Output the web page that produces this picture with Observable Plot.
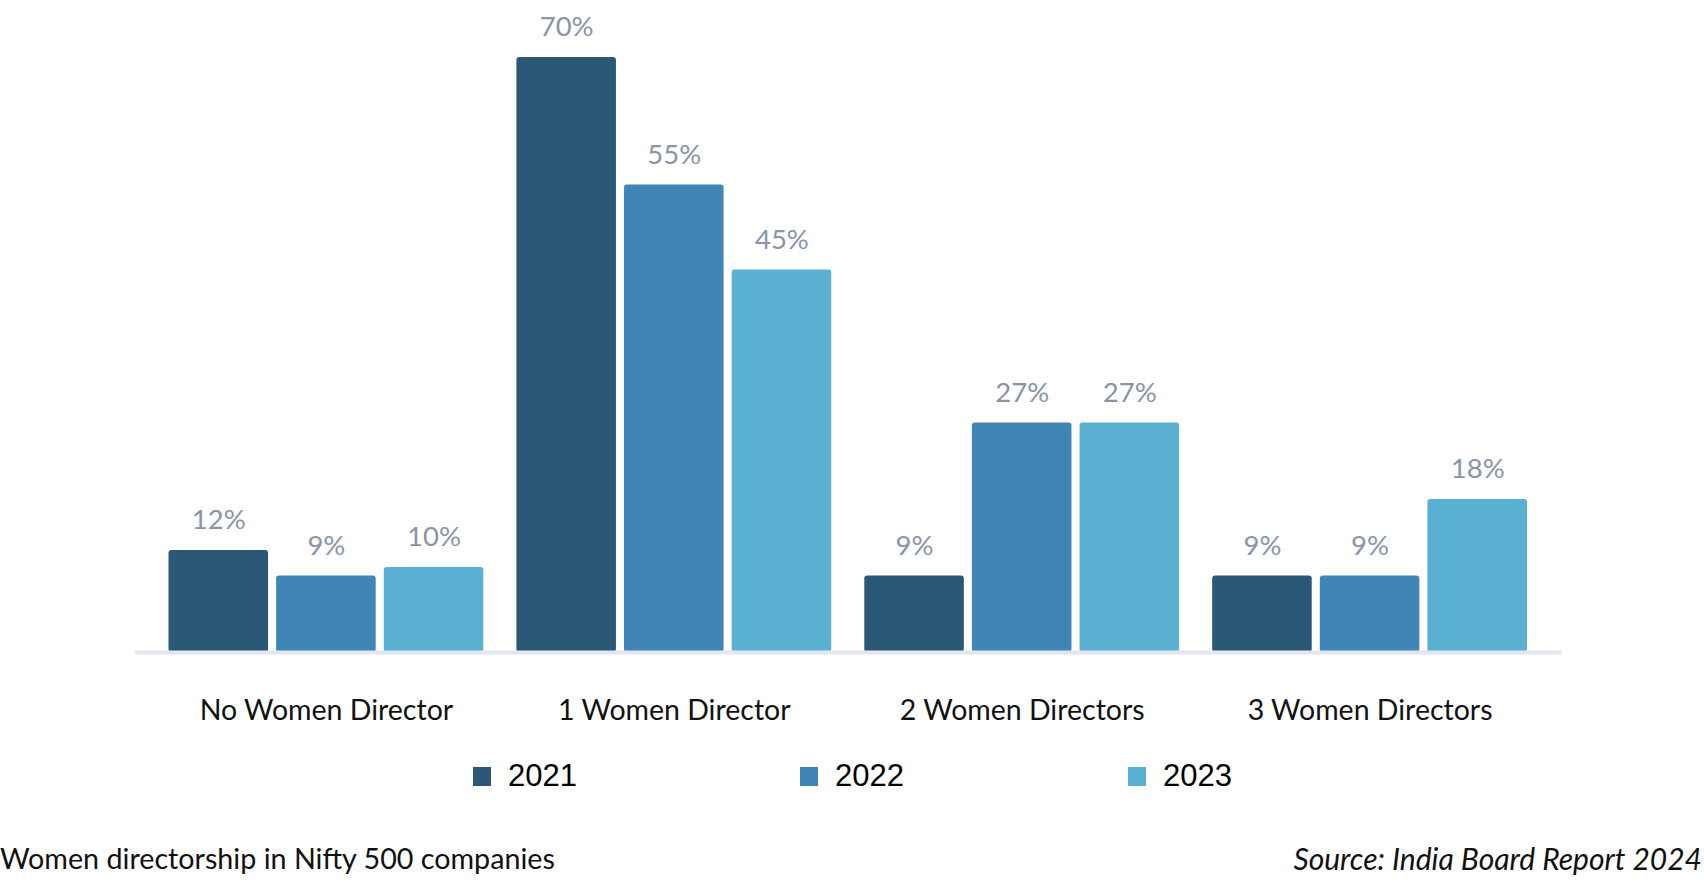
<!DOCTYPE html>
<html>
<head>
<meta charset="utf-8">
<script src="https://cdn.jsdelivr.net/npm/d3@7"></script>
<script src="https://cdn.jsdelivr.net/npm/@observablehq/plot@0.6"></script>
<style>
  html, body { margin: 0; padding: 0; background: #ffffff; }
  #wrap { position: relative; width: 1704px; height: 884px; overflow: hidden; font-family: Lato, "Open Sans", sans-serif; }
  #chart { position: absolute; left: 0; top: 0; }
  .legend-item { position: absolute; top: 760px; height: 32px; display: flex; align-items: center; font-family: "Liberation Sans", Arial, sans-serif; font-size: 31px; color: #000; }
  .swatch { width: 18px; height: 19px; margin-right: 17px; }
  .caption { position: absolute; top: 840px; font-size: 28.7px; line-height: 36px; color: #111; white-space: nowrap; }
</style>
</head>
<body>
<div id="wrap">
  <div id="chart"></div>
  <div id="legend"></div>
  <div class="caption" style="left:0px;">Women directorship in Nifty 500 companies</div>
  <div class="caption" style="right:2px; font-style: italic; font-size: 30px;">Source: India Board Report 2024</div>
</div>
<script>
const categories = ["No Women Director", "1 Women Director", "2 Women Directors", "3 Women Directors"];
const years = ["2021", "2022", "2023"];
const values2021 = [12, 70, 9, 9];
const values2022 = [9, 55, 27, 9];
const values2023 = [10, 45, 27, 18];
const yearColors = ["#2c5877", "#3f85b6", "#5ab0d0"];

const series = [values2021, values2022, values2023];
const data = categories.flatMap((c, i) => years.map((y, j) => ({category: c, year: y, value: series[j][i]})));

const chart = Plot.plot({
  width: 1704,
  height: 740,
  marginTop: 57,
  marginBottom: 88,
  marginLeft: 168.5,
  marginRight: 177,
  style: {fontFamily: "Lato, 'Open Sans', sans-serif", fontSize: "28.5px", color: "#111", background: "transparent"},
  fx: {domain: categories, paddingInner: 0.095, paddingOuter: 0, round: false, label: null, axis: "bottom", tickSize: 0, tickPadding: 47},
  x: {domain: years, paddingInner: 0.075, paddingOuter: 0, round: false, axis: null},
  y: {domain: [0, 70], axis: null},
  color: {domain: years, range: yearColors},
  marks: [
    Plot.barY(data, {fx: "category", x: "year", y: "value", fill: "year", rx: 3}),
    Plot.text(data, {fx: "category", x: "year", y: "value", text: d => d.value + "%", dy: -30, fill: "#8a94a7", fontSize: 27.5}),
    Plot.frame({facet: "super", anchor: "bottom", stroke: "#e3e6ef", strokeWidth: 4, insetLeft: -32, insetRight: -32})
  ]
});
document.getElementById("chart").appendChild(chart);

const legendX = [473, 800, 1128];
const legend = document.getElementById("legend");
years.forEach((y, i) => {
  const item = document.createElement("div");
  item.className = "legend-item";
  item.style.left = legendX[i] + "px";
  const sw = document.createElement("div");
  sw.className = "swatch";
  sw.style.background = yearColors[i];
  const t = document.createElement("span");
  t.textContent = y;
  item.appendChild(sw);
  item.appendChild(t);
  legend.appendChild(item);
});
</script>
</body>
</html>
